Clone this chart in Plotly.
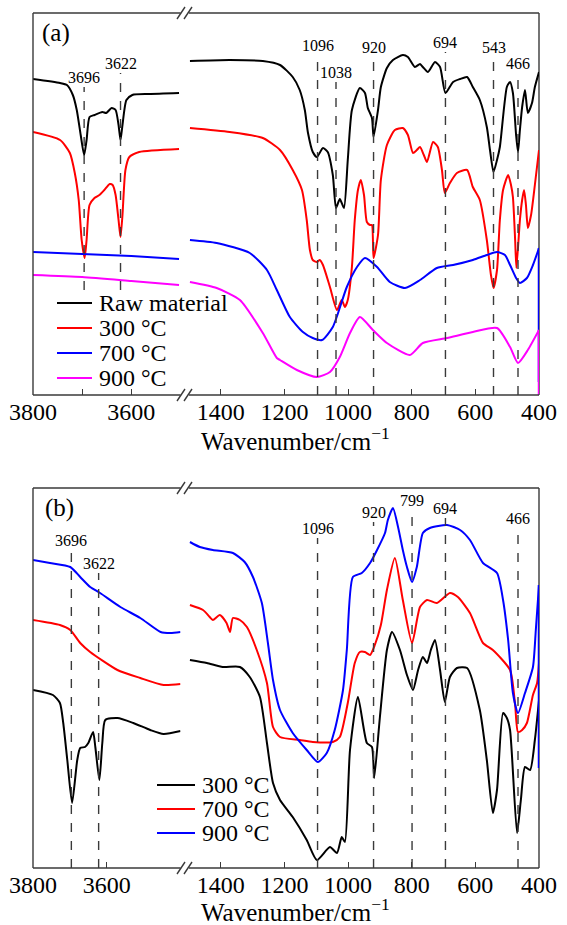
import plotly.graph_objects as go

W, H = 567, 925
FONT = "'Liberation Serif', 'Times New Roman', 'DejaVu Serif', serif"

# ---------------- Panel (a) data (transmittance, arbitrary units) ----------------
a_raw_hi_wn = [3800, 3745, 3731, 3719, 3711, 3703, 3696, 3691, 3685, 3675, 3659, 3651, 3640, 3632, 3626, 3622, 3618, 3610, 3598, 3564, 3503]
a_raw_hi_t = [316, 312, 310, 300, 285, 260, 240, 255, 278, 280, 283, 282, 287, 285, 270, 255, 270, 295, 300, 301, 302]
a_raw_lo_wn = [1497, 1372, 1268, 1214, 1174, 1152, 1136, 1126, 1111, 1098, 1079, 1064, 1048, 1038, 1026, 1013, 1001, 988, 963, 947, 938, 925, 920, 906, 897, 878, 859, 828, 812, 790, 774, 765, 749, 727, 711, 694, 670, 648, 626, 608, 586, 564, 554, 543, 532, 523, 501, 491, 482, 472, 466, 460, 453, 444, 435, 422, 413, 400]
a_raw_lo_t = [334, 335, 334, 330, 318, 305, 285, 262, 243, 238, 247, 243, 220, 187, 196, 187, 235, 285, 307, 302, 287, 277, 258, 285, 308, 327, 335, 340, 338, 328, 331, 328, 323, 333, 328, 302, 313, 316, 318, 308, 295, 268, 245, 223, 235, 248, 308, 313, 302, 260, 243, 265, 288, 305, 282, 292, 308, 323]

a_300_hi_wn = [3800, 3745, 3725, 3715, 3707, 3701, 3695, 3691, 3685, 3675, 3665, 3655, 3644, 3638, 3632, 3626, 3622, 3618, 3612, 3604, 3584, 3503]
a_300_hi_t = [263, 255, 242, 222, 195, 155, 137, 155, 190, 197, 200, 205, 211, 210, 200, 175, 158, 180, 225, 238, 243, 246]
a_300_lo_wn = [1497, 1372, 1268, 1214, 1174, 1145, 1130, 1120, 1111, 1098, 1089, 1079, 1057, 1035, 1020, 1010, 1001, 988, 979, 969, 960, 950, 941, 931, 925, 920, 906, 897, 878, 853, 828, 812, 796, 784, 774, 762, 752, 733, 718, 705, 696, 680, 658, 626, 608, 586, 564, 551, 543, 532, 523, 513, 497, 488, 482, 475, 471, 460, 453, 447, 441, 435, 425, 413, 400]
a_300_lo_t = [267, 263, 257, 245, 225, 205, 175, 145, 135, 133, 135, 130, 108, 85, 95, 88, 95, 128, 175, 205, 215, 200, 173, 170, 170, 137, 160, 215, 250, 265, 267, 260, 242, 245, 248, 240, 233, 253, 248, 225, 202, 212, 222, 225, 208, 195, 155, 120, 107, 125, 175, 205, 220, 210, 198, 155, 127, 175, 195, 205, 190, 167, 180, 210, 245]

a_700_hi_wn = [3800, 3700, 3600, 3503]
a_700_hi_t = [143, 141, 139, 136]
a_700_lo_wn = [1497, 1413, 1309, 1255, 1224, 1183, 1142, 1111, 1082, 1048, 1004, 972, 947, 909, 869, 821, 774, 721, 670, 608, 564, 532, 507, 491, 472, 460, 438, 419, 400]
a_700_lo_t = [155, 152, 142, 125, 105, 78, 63, 57, 55, 68, 108, 128, 137, 128, 113, 107, 115, 127, 130, 135, 140, 143, 140, 130, 117, 112, 117, 130, 147]

a_900_hi_wn = [3800, 3700, 3600, 3503]
a_900_hi_t = [120, 118, 114, 110]
a_900_lo_wn = [1497, 1413, 1340, 1268, 1224, 1214, 1161, 1098, 1057, 1026, 994, 963, 922, 878, 806, 765, 689, 608, 532, 491, 466, 435, 400]
a_900_lo_t = [113, 107, 95, 62, 37, 35, 25, 18, 23, 38, 62, 78, 65, 52, 40, 52, 57, 63, 67, 48, 32, 45, 65]

# end-of-scan drop at 400 cm-1 (visible as a coloured vertical segment on the right edge)
a_end_drop_t = [None, None, 13, 0]
b_end_drop_t = [None, None, 100]

a_names = ["Raw material", "300 °C", "700 °C", "900 °C"]
a_colors = ["#000000", "#ff0000", "#0000ff", "#ff00ff"]

a_hi_peaks = [3696, 3622]
a_hi_peak_top = [308, 322]
a_lo_peaks = [1096, 1038, 920, 694, 543, 466]
a_lo_peak_top = [340, 313, 338, 343, 338, 322]

# ---------------- Panel (b) data ----------------
b_300_hi_wn = [3800, 3746, 3727, 3718, 3707, 3694, 3680, 3672, 3659, 3650, 3637, 3631, 3620, 3612, 3604, 3571, 3528, 3482, 3446, 3400]
b_300_hi_t = [178, 173, 165, 145, 108, 65, 108, 120, 121, 125, 136, 121, 88, 125, 148, 150, 145, 138, 134, 137]
b_300_lo_wn = [1497, 1444, 1394, 1340, 1309, 1277, 1255, 1236, 1214, 1174, 1130, 1098, 1057, 1035, 1020, 1010, 994, 969, 941, 925, 918, 900, 878, 862, 837, 815, 796, 780, 765, 752, 740, 727, 711, 696, 680, 658, 626, 586, 564, 545, 532, 513, 501, 491, 469, 457, 444, 428, 413, 400]
b_300_lo_t = [208, 205, 201, 201, 191, 171, 125, 85, 68, 51, 28, 8, 21, 15, 31, 26, 118, 171, 125, 121, 90, 151, 218, 236, 218, 193, 178, 198, 211, 205, 218, 228, 198, 166, 191, 200, 200, 158, 108, 55, 78, 155, 150, 138, 35, 68, 101, 98, 128, 168]

b_700_hi_wn = [3800, 3727, 3699, 3672, 3645, 3571, 3509, 3446, 3400]
b_700_hi_t = [248, 243, 238, 225, 216, 198, 190, 183, 184]
b_700_lo_wn = [1497, 1456, 1435, 1425, 1403, 1382, 1371, 1362, 1340, 1318, 1287, 1255, 1236, 1214, 1152, 1111, 1048, 1026, 1001, 979, 963, 947, 931, 916, 897, 878, 853, 828, 799, 774, 752, 721, 680, 655, 617, 576, 545, 491, 475, 466, 453, 438, 419, 406, 400]
b_700_lo_t = [263, 258, 251, 248, 253, 245, 236, 250, 248, 241, 218, 185, 141, 131, 128, 126, 126, 131, 165, 205, 216, 216, 213, 223, 243, 278, 310, 268, 225, 261, 268, 265, 275, 271, 255, 225, 218, 198, 163, 136, 138, 145, 173, 185, 205]

b_900_hi_wn = [3800, 3754, 3699, 3672, 3645, 3618, 3563, 3509, 3454, 3427, 3400]
b_900_hi_t = [308, 305, 301, 291, 281, 275, 261, 250, 236, 235, 236]
b_900_lo_wn = [1497, 1466, 1425, 1362, 1325, 1299, 1271, 1252, 1236, 1214, 1174, 1130, 1095, 1067, 1042, 1016, 1004, 985, 957, 931, 909, 884, 875, 859, 843, 828, 815, 799, 784, 765, 743, 689, 648, 617, 576, 532, 513, 497, 482, 466, 444, 419, 410, 400]
b_900_lo_t = [326, 321, 318, 315, 306, 291, 265, 225, 188, 158, 135, 118, 106, 115, 138, 178, 218, 291, 295, 305, 318, 335, 348, 360, 341, 318, 301, 286, 301, 335, 340, 343, 338, 328, 305, 295, 268, 228, 175, 155, 175, 201, 238, 283]

b_names = ["300 °C", "700 °C", "900 °C"]
b_colors = ["#000000", "#ff0000", "#0000ff"]

b_hi_peaks = [3696, 3622]
b_hi_peak_top = [318, 295]
b_lo_peaks = [1096, 920, 799, 694, 466]
b_lo_peak_top = [330, 346, 358, 350, 340]

hi_ticks_a = [3800, 3700, 3600]
hi_labels_a = ["3800", "", "3600"]
hi_ticks_b = [3800, 3600]
hi_labels_b = ["3800", "3600"]
lo_ticks = [1400, 1200, 1000, 800, 600, 400]
lo_labels = ["1400", "1200", "1000", "800", "600", "400"]

# ---------------- layout geometry (pixels) ----------------
XL0, XL1, XR0, XR1 = 33, 180.5, 189, 539
A_TOP, A_BOT = 13, 395
B_TOP, B_BOT = 488, 868
FRAME = "#3a3a3a"


def fx(p):
    return p / W


def fy(p):
    return 1 - p / H


fig = go.Figure()


def add_series(hw, ht, lw, lt, name, col, xa_hi, xa_lo, ya, drop):
    fig.add_trace(go.Scatter(x=hw, y=ht, xaxis=xa_hi, yaxis=ya, mode="lines", name=name,
                             line=dict(color=col, width=2, shape="spline", smoothing=0.6), showlegend=False))
    fig.add_trace(go.Scatter(x=lw, y=lt, xaxis=xa_lo, yaxis=ya, mode="lines", name=name,
                             line=dict(color=col, width=2, shape="spline", smoothing=0.6), showlegend=False))
    if drop is not None:
        fig.add_trace(go.Scatter(x=[lw[-1], lw[-1]], y=[lt[-1], drop], xaxis=xa_lo, yaxis=ya, mode="lines",
                                 line=dict(color=col, width=2.5), showlegend=False, hoverinfo="skip"))


a_series = [
    (a_raw_hi_wn, a_raw_hi_t, a_raw_lo_wn, a_raw_lo_t),
    (a_300_hi_wn, a_300_hi_t, a_300_lo_wn, a_300_lo_t),
    (a_700_hi_wn, a_700_hi_t, a_700_lo_wn, a_700_lo_t),
    (a_900_hi_wn, a_900_hi_t, a_900_lo_wn, a_900_lo_t),
]
for (hw, ht, lw, lt), name, col, drop in zip(a_series, a_names, a_colors, a_end_drop_t):
    add_series(hw, ht, lw, lt, name, col, "x", "x2", "y", drop)

b_series = [
    (b_300_hi_wn, b_300_hi_t, b_300_lo_wn, b_300_lo_t),
    (b_700_hi_wn, b_700_hi_t, b_700_lo_wn, b_700_lo_t),
    (b_900_hi_wn, b_900_hi_t, b_900_lo_wn, b_900_lo_t),
]
for (hw, ht, lw, lt), name, col, drop in zip(b_series, b_names, b_colors, b_end_drop_t):
    add_series(hw, ht, lw, lt, name, col, "x3", "x4", "y2", drop)

shapes = []
annotations = []


def peak_lines(peaks, tops, bottom, xref, yref):
    for p, t in zip(peaks, tops):
        shapes.append(dict(type="line", xref=xref, yref=yref, x0=p, x1=p, y0=bottom, y1=t,
                           line=dict(color=FRAME, width=1.4, dash="dash")))
        annotations.append(dict(xref=xref, yref=yref, x=p, y=t, text=str(p), showarrow=False,
                                xanchor="center", yanchor="bottom", yshift=-1,
                                font=dict(family=FONT, size=16, color="#000")))


peak_lines(a_hi_peaks, a_hi_peak_top, 105, "x", "y")
peak_lines(a_lo_peaks, a_lo_peak_top, 0, "x2", "y")
peak_lines(b_hi_peaks, b_hi_peak_top, 0, "x3", "y2")
peak_lines(b_lo_peaks, b_lo_peak_top, 0, "x4", "y2")


def frame(top, bot):
    L = dict(color=FRAME, width=1.4)
    segs = [
        (XL0, top, XL0, bot),
        (XL0, bot, XL1, bot), (XR0, bot, XR1, bot),
        (XL0, top, XL1, top), (XR0, top, XR1, top),
    ]
    for x0, y0, x1, y1 in segs:
        shapes.append(dict(type="line", xref="paper", yref="paper", x0=fx(x0), x1=fx(x1),
                           y0=fy(y0), y1=fy(y1), line=L))
    shapes.append(dict(type="line", xref="paper", yref="paper", x0=fx(XR1), x1=fx(XR1),
                       y0=fy(top), y1=fy(bot), line=L, layer="below"))
    for yy in (top, bot):
        for xs in (177, 184):
            shapes.append(dict(type="line", xref="paper", yref="paper", x0=fx(xs), x1=fx(xs + 8),
                               y0=fy(yy + 6), y1=fy(yy - 6), line=L))


frame(A_TOP, A_BOT)
frame(B_TOP, B_BOT)


def legend(names, colors, x0, x1, ys):
    for n, c, yy in zip(names, colors, ys):
        shapes.append(dict(type="line", xref="paper", yref="paper", x0=fx(x0), x1=fx(x1),
                           y0=fy(yy), y1=fy(yy), line=dict(color=c, width=2)))
        annotations.append(dict(xref="paper", yref="paper", x=fx(x1 + 5), y=fy(yy), text=n,
                                showarrow=False, xanchor="left", yanchor="middle",
                                font=dict(family=FONT, size=24, color="#000")))


legend(a_names, a_colors, 57, 92, [303, 328, 353, 378])
legend(b_names, b_colors, 157, 195, [785, 809, 833])

for txt, xx, yy in [("(a)", 56, 33), ("(b)", 59, 508)]:
    annotations.append(dict(xref="paper", yref="paper", x=fx(xx), y=fy(yy), text=txt, showarrow=False,
                            xanchor="center", yanchor="middle", font=dict(family=FONT, size=25, color="#000")))

for yy in (439, 910):
    annotations.append(dict(xref="paper", yref="paper", x=fx(295), y=fy(yy),
                            text="Wavenumber/cm<sup>−1</sup>", showarrow=False,
                            xanchor="center", yanchor="middle", font=dict(family=FONT, size=25, color="#000")))

xcommon = dict(showgrid=False, zeroline=False, showline=False, ticks="inside", ticklen=6,
               tickwidth=1.4, tickcolor=FRAME, automargin=False,
               tickfont=dict(family=FONT, size=24, color="#000"))

fig.update_layout(
    width=W, height=H, margin=dict(l=0, r=0, t=0, b=0, autoexpand=False),
    paper_bgcolor="white", plot_bgcolor="white", font=dict(family=FONT),
    shapes=shapes, annotations=annotations, showlegend=False,
    xaxis=dict(domain=[fx(XL0), fx(XL1)], range=[3800, 3500], anchor="y",
               tickvals=hi_ticks_a, ticktext=hi_labels_a, **xcommon),
    xaxis2=dict(domain=[fx(XR0), fx(XR1)], range=[1500, 400], anchor="y",
                tickvals=lo_ticks, ticktext=lo_labels, **xcommon),
    xaxis3=dict(domain=[fx(XL0), fx(XL1)], range=[3800, 3400], anchor="y2",
                tickvals=hi_ticks_b, ticktext=hi_labels_b, **xcommon),
    xaxis4=dict(domain=[fx(XR0), fx(XR1)], range=[1500, 400], anchor="y2",
                tickvals=lo_ticks, ticktext=lo_labels, **xcommon),
    yaxis=dict(domain=[fy(A_BOT), fy(A_TOP)], range=[0, A_BOT - A_TOP], visible=False, automargin=False),
    yaxis2=dict(domain=[fy(B_BOT), fy(B_TOP)], range=[0, B_BOT - B_TOP], visible=False, automargin=False),
)

fig.write_html("out.html")
